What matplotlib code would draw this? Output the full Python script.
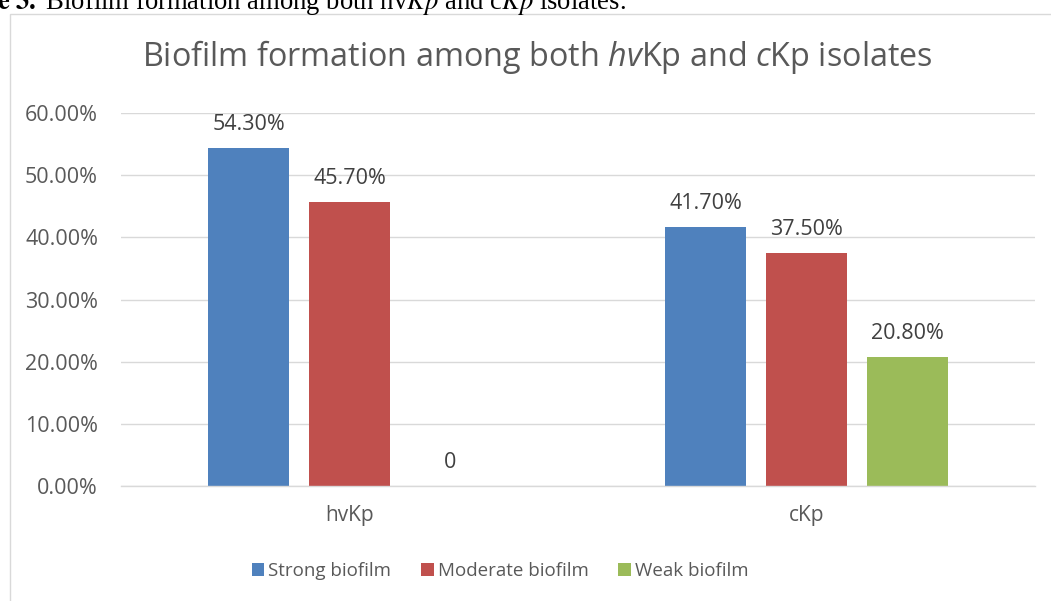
import matplotlib
matplotlib.use("Agg")
import matplotlib.pyplot as plt
from matplotlib.patches import Rectangle
import numpy as np

categories = ["hvKp", "cKp"]
series_names = ["Strong biofilm", "Moderate biofilm", "Weak biofilm"]
strong = [54.3, 41.7]
moderate = [45.7, 37.5]
weak = [0.0, 20.8]
label_strong = ["54.30%", "41.70%"]
label_moderate = ["45.70%", "37.50%"]
label_weak = ["0", "20.80%"]
yticks = [0, 10, 20, 30, 40, 50, 60]
ytick_labels = ["0.00%", "10.00%", "20.00%", "30.00%", "40.00%", "50.00%", "60.00%"]

colors = ["#4F81BD", "#C0504D", "#9BBB59"]
text_gray = "#595959"
label_gray = "#404040"
grid_gray = "#D9D9D9"

plt.rcParams['font.family'] = ['Open Sans', 'DejaVu Sans']
plt.rcParams['mathtext.fontset'] = 'custom'
plt.rcParams['mathtext.it'] = 'Open Sans:italic'
plt.rcParams['mathtext.rm'] = 'Open Sans'

W, H = 1051, 601
fig = plt.figure(figsize=(W / 100, H / 100), dpi=100)

# chart border (cut off on right and bottom)
fig.add_artist(Rectangle((9.5 / W, -0.1), 1.2, 1.1 - 14 / H, transform=fig.transFigure,
                         fill=False, edgecolor=grid_gray, linewidth=1.0))

ax = fig.add_axes([121 / W, 1 - 486 / H, 914 / W, 373 / H])
x = np.arange(len(categories))
step = 0.221
width = 0.177
series = [strong, moderate, weak]
labels = [label_strong, label_moderate, label_weak]
for i, (vals, labs, col, name) in enumerate(zip(series, labels, colors, series_names)):
    xs = x + (i - 1) * step
    ax.bar(xs, vals, width=width, color=col, label=name, zorder=2)
    for xx, v, lab in zip(xs, vals, labs):
        ax.annotate(lab, (xx, v), xytext=(0, 13), textcoords='offset points',
                    ha='center', va='baseline', fontsize=15.5, color=label_gray)

ax.set_xlim(-0.5, 1.5)
ax.set_ylim(0, 60)
ax.set_yticks(yticks)
ax.set_yticklabels(ytick_labels)
ax.set_xticks(x)
ax.set_xticklabels(categories)
ax.tick_params(axis='y', length=0, pad=16.5, labelsize=15.5, labelcolor=text_gray)
ax.tick_params(axis='x', length=0, pad=14, labelsize=15, labelcolor=text_gray)
ax.yaxis.grid(True, color=grid_gray, linewidth=1.0, zorder=0)
ax.set_axisbelow(True)
for s in ['top', 'right', 'left']:
    ax.spines[s].set_visible(False)
ax.spines['bottom'].set_color(grid_gray)
ax.spines['bottom'].set_linewidth(1.0)

# title
fig.text(537 / W, 1 - 66 / H,
         r"Biofilm formation among both $\mathit{hv}$Kp and $\mathit{c}$Kp isolates",
         ha='center', va='baseline', fontsize=23.3, color=text_gray)

# caption (cut off at top)
fig.text(-3 / W, 1 - 9 / H,
         r"$\mathbf{e\ 3.}$ Biofilm formation among both hv$\mathit{Kp}$ and c$\mathit{Kp}$ isolates.",
         ha='left', va='baseline', fontsize=19.2, color='black',
         family=['Liberation Serif'], math_fontfamily='stix')

# legend
handles, leg_labels = ax.get_legend_handles_labels()
fig.legend(handles, leg_labels, loc='center', bbox_to_anchor=(500 / W, 1 - 571 / H),
           ncol=3, frameon=False, fontsize=13.5, labelcolor=text_gray,
           handlelength=0.67, handleheight=0.69, handletextpad=0.21, columnspacing=1.6)

fig.savefig("out.png", dpi=100)
